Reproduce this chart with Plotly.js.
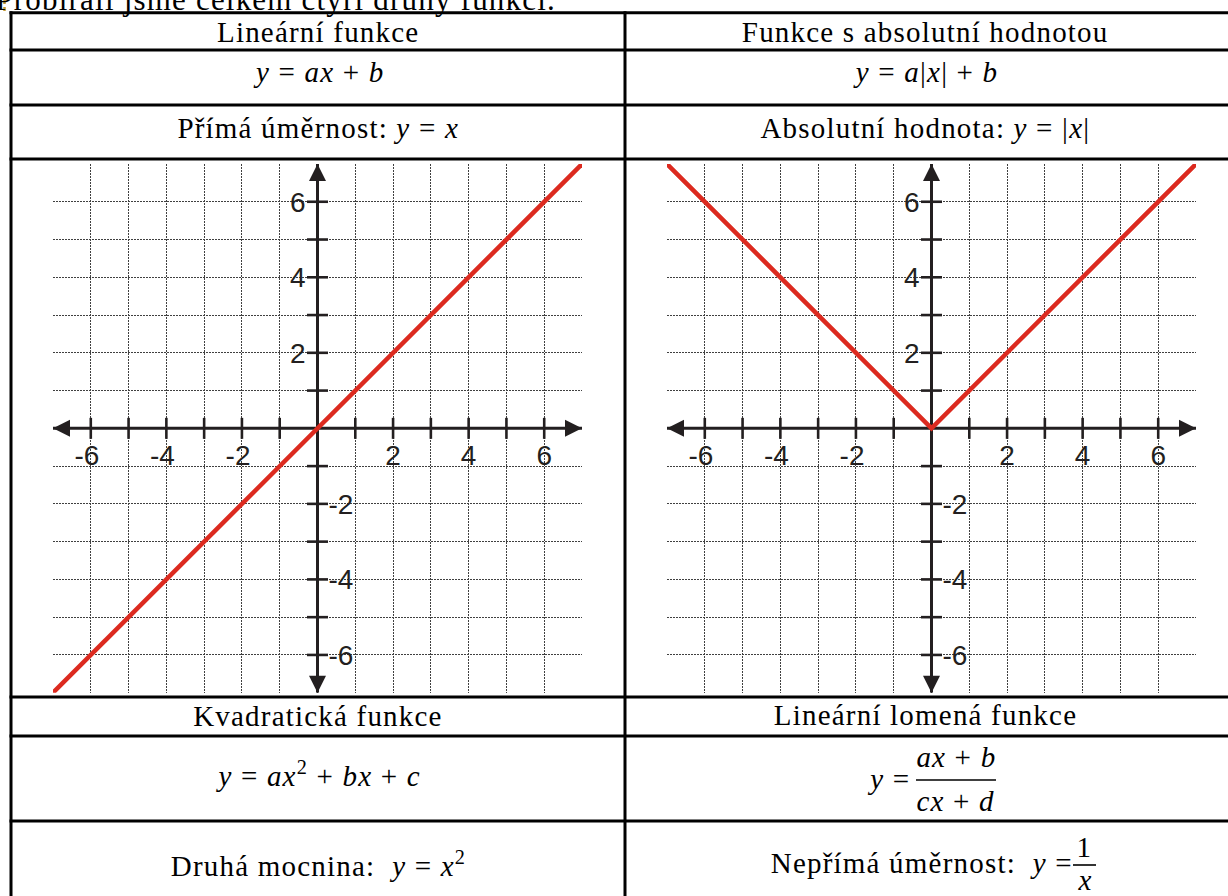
<!DOCTYPE html>
<html>
<head>
<meta charset="utf-8">
<script src="https://cdn.plot.ly/plotly-3.0.1.min.js"></script>
<style>
html,body{margin:0;padding:0;background:#fff;}
#chart{width:1228px;height:896px;}
.js-plotly-plot .annotation-text{letter-spacing:1.2px;}
</style>
</head>
<body>
<div id="chart"></div>
<script>
// ---------------- data ----------------
const xTickVals  = [-6,-4,-2,2,4,6];
const xTickText  = ['-6\u00a0','-4\u00a0','-2\u00a0','2','4','6'];
const yPosVals   = [2,4,6];
const yPosText   = ['2','4','6'];
const yNegVals   = [-6,-4,-2];
const yNegText   = ['-6','-4','-2'];
const axisTicks  = [-6,-5,-4,-3,-2,-1,1,2,3,4,5,6];
const axisEnds   = [-7,7];
const linearX    = [-7,7];
const linearY    = [-7,7];
const absX       = [-7,0,7];
const absY       = [7,0,7];

// ---------------- styling ----------------
const W = 1228, H = 896;
const AX = '#231f20';
const RED = '#dc2a1f';
const px = v => v / W;
const py = v => 1 - v / H;
const zeros = a => a.map(() => 0);

function axisTraces(xa, ya, yb) {
  const base = {type:'scatter', xaxis:xa, yaxis:ya, hoverinfo:'skip', showlegend:false, cliponaxis:false};
  return [
    Object.assign({}, base, {mode:'lines', x:axisEnds, y:zeros(axisEnds), line:{color:AX, width:3}}),
    Object.assign({}, base, {mode:'lines', x:zeros(axisEnds), y:axisEnds, line:{color:AX, width:3}}),
    Object.assign({}, base, {mode:'markers', x:axisEnds, y:zeros(axisEnds),
      marker:{symbol:['arrow-left','arrow-right'], size:17, color:AX}}),
    Object.assign({}, base, {mode:'markers', x:zeros(axisEnds), y:axisEnds,
      marker:{symbol:['arrow-down','arrow-up'], size:17, color:AX}}),
    Object.assign({}, base, {mode:'markers', x:axisTicks, y:zeros(axisTicks),
      marker:{symbol:'line-ns', size:15, line:{width:2.6, color:AX}}}),
    Object.assign({}, base, {mode:'markers', yaxis:yb, x:zeros(axisTicks), y:axisTicks,
      marker:{symbol:'line-ew', size:15, line:{width:2.6, color:AX}}})
  ];
}

const traces = [].concat(
  axisTraces('x','y','y3'),
  axisTraces('x2','y2','y4'),
  [
    {type:'scatter', mode:'lines', x:linearX, y:linearY, xaxis:'x', yaxis:'y',
     line:{color:RED, width:4.5}, hoverinfo:'skip', showlegend:false, cliponaxis:false},
    {type:'scatter', mode:'lines', x:absX, y:absY, xaxis:'x2', yaxis:'y2',
     line:{color:RED, width:4.5}, hoverinfo:'skip', showlegend:false, cliponaxis:false}
  ]
);

// plot geometry (pixels)
const c1L = 53, c1R = 582, c2L = 667, c2R = 1196, cTop = 164, cBot = 692.7;
const yZero = 428.35, x0a = 317.5, x0b = 931.5;

const tickFont = {family:'Liberation Sans, Arial, sans-serif', size:28, color:AX};
const GRIDC = '#404040', GRIDD = '2px,1px';
const GRID = {showgrid:true, gridcolor:GRIDC, griddash:GRIDD, gridwidth:1.1,
  minor:{tickmode:'linear', tick0:0, dtick:1, showgrid:true, gridcolor:GRIDC, griddash:GRIDD, gridwidth:1.1, ticks:''}};

function xAxis(l, r) {
  return Object.assign({
    domain:[px(l), px(r)], range:[-7,7], anchor:'free', position:py(yZero),
    tickmode:'array', tickvals:xTickVals, ticktext:xTickText, ticks:'',
    ticklabelstandoff:8, tickfont:tickFont, zeroline:false, showline:false, fixedrange:true
  }, GRID);
}
function yAxis(x0) {
  return Object.assign({
    domain:[py(cBot), py(cTop)], range:[-7,7], anchor:'free', position:px(x0), side:'left',
    tickmode:'array', tickvals:yPosVals, ticktext:yPosText, ticks:'',
    ticklabelstandoff:12, tickfont:tickFont, zeroline:false, showline:false, fixedrange:true
  }, GRID);
}
function yNeg(over, x0) {
  return {
    overlaying:over, range:[-7,7], anchor:'free', position:px(x0), side:'right',
    tickmode:'array', tickvals:yNegVals, ticktext:yNegText, ticks:'',
    ticklabelstandoff:10, tickfont:tickFont, showgrid:false, zeroline:false, showline:false, fixedrange:true
  };
}

// ---------------- table text ----------------
const FS = 29;
const serif = 'Liberation Serif, Times New Roman, serif';
function T(text, x, base, anchor, fs) {
  fs = fs || FS;
  return {xref:'paper', yref:'paper', x:px(x), y:py(base + 0.216*fs), xanchor:anchor || 'center',
    yanchor:'bottom', text:text, showarrow:false, borderpad:0, borderwidth:0,
    font:{family:serif, size:fs, color:'#000'}};
}
const cL = 318, cR = 925.5;
const annotations = [
  T('Probírali jsme celkem čtyři druhy funkcí.', 20, 10, 'left', 31),
  T('Lineární funkce', cL, 42),
  T('Funkce s absolutní hodnotou', cR, 42),
  T('<i>y</i> = <i>ax</i> + <i>b</i>', cL, 82),
  T('<i>y</i> = <i>a</i>|<i>x</i>| + <i>b</i>', cR, 82),
  T('Přímá úměrnost: <i>y</i> = <i>x</i>', cL, 138),
  T('Absolutní hodnota: <i>y</i> = |<i>x</i>|', cR, 138),
  T('Kvadratická funkce', cL, 726),
  T('Lineární lomená funkce', cR, 725),
  T('<i>y</i> = <i>ax</i><sup>2</sup> + <i>bx</i> + <i>c</i>', cL, 786),
  T('<i>y</i> =', 908, 789, 'right'),
  T('<i>ax</i> + <i>b</i>', 956, 767),
  T('<i>cx</i> + <i>d</i>', 956, 811),
  T('Druhá mocnina: \u00a0<i>y</i> = <i>x</i><sup>2</sup>', cL, 876),
  T('Nepřímá úměrnost: \u00a0<i>y</i> =', 1060, 873, 'right'),
  T('1', 1084, 857),
  T('<i>x</i>', 1085, 890)
];

// ---------------- table lines ----------------
function hl(y, x1, x2, w) {
  return {type:'line', xref:'paper', yref:'paper', x0:px(x1), x1:px(x2), y0:py(y), y1:py(y),
          line:{color:'#000', width:w || 3}};
}
function vl(x, y1, y2, w) {
  return {type:'line', xref:'paper', yref:'paper', x0:px(x), x1:px(x), y0:py(y1), y1:py(y2),
          line:{color:'#000', width:w || 3}};
}
const shapes = [
  hl(12.7, 9.5, W), hl(50, 9.5, W), hl(105, 9.5, W), hl(159, 9.5, W),
  hl(697, 9.5, W), hl(736, 9.5, W), hl(821, 9.5, W),
  vl(11, 11.2, H), vl(625, 11.2, H),
  hl(780, 916, 996, 1.6),
  hl(865, 1073, 1096, 1.6),
  {type:'line', xref:'paper', yref:'paper', x0:px(4.5), x1:px(4.5), y0:py(0), y1:py(13),
   line:{color:'#c49a34', width:2.5, dash:'4px,3px'}}
];

const layout = {
  width:W, height:H, margin:{l:0, r:0, t:0, b:0},
  paper_bgcolor:'#ffffff', plot_bgcolor:'#ffffff', showlegend:false,
  xaxis:xAxis(c1L, c1R), yaxis:yAxis(x0a), yaxis3:yNeg('y', x0a),
  xaxis2:xAxis(c2L, c2R), yaxis2:yAxis(x0b), yaxis4:yNeg('y2', x0b),
  annotations:annotations, shapes:shapes, hovermode:false
};

Plotly.newPlot('chart', traces, layout, {staticPlot:true, displayModeBar:false});
</script>
</body>
</html>
